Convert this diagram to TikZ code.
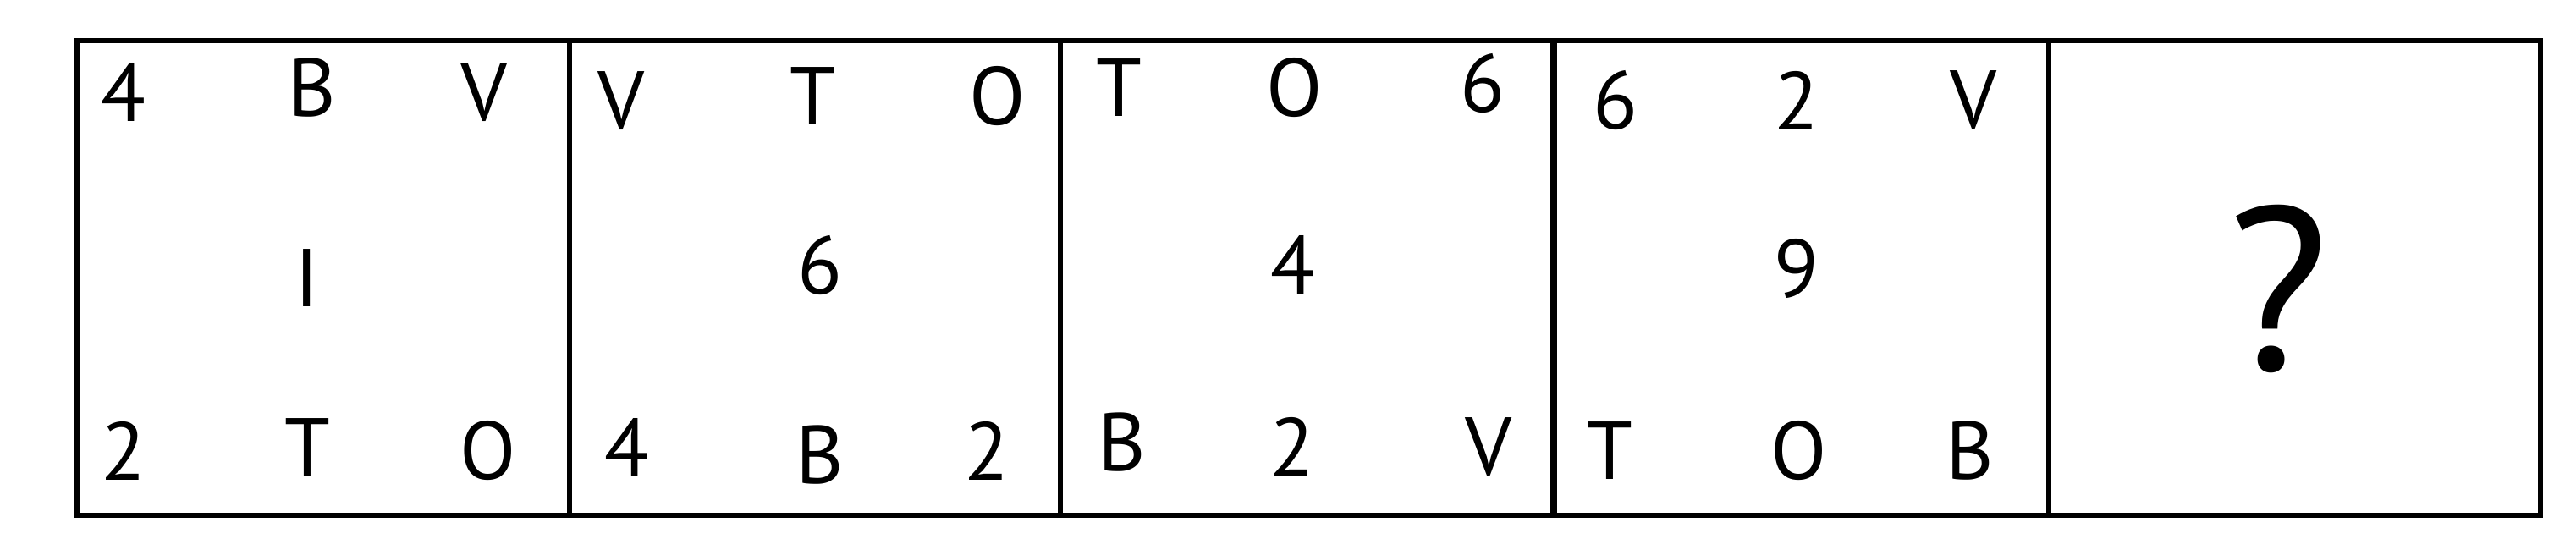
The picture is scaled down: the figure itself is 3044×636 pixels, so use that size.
\documentclass[tikz,border=0pt]{standalone}
\usepackage{fontspec}
\setmainfont{PT Sans}
\tikzset{
  khung/.style={line width=1.6pt},
  kyhieu/.style={inner sep=0pt,font=\fontsize{27.6}{28}\selectfont},
  hoi/.style={inner sep=0pt,font=\fontsize{78}{78}\selectfont}
}
\begin{document}
\begin{tikzpicture}[x=0.01cm,y=-0.01cm]
  \useasboundingbox (0,0) rectangle (3044,636);
  \draw[khung] (91,48) rectangle (3002,609);
  \foreach \x in {673,1253,2421} \draw[khung] (\x,48) -- (\x,609);
  \draw[khung,line width=2.2pt] (1836,48) -- (1836,609);
  % o thu nhat
  \node[kyhieu] (a1) at (146,109) {4};
  \node[kyhieu] (a2) at (369,104) {B};
  \node[kyhieu] (a3) at (572,109) {V};
  \node[kyhieu] (a4) at (363,329) {I};
  \node[kyhieu] (a5) at (146,533) {2};
  \node[kyhieu] (a6) at (363,529) {T};
  \node[kyhieu] (a7) at (577,533) {O};
  % o thu hai
  \node[kyhieu] (b1) at (734,119) {V};
  \node[kyhieu] (b2) at (960,114) {T};
  \node[kyhieu] (b3) at (1179,114) {O};
  \node[kyhieu] (b4) at (969,314) {6};
  \node[kyhieu] (b5) at (741,529) {4};
  \node[kyhieu] (b6) at (969,538) {B};
  \node[kyhieu] (b7) at (1166,533) {2};
  % o thu ba
  \node[kyhieu] (c1) at (1322,104) {T};
  \node[kyhieu] (c2) at (1530,104) {O};
  \node[kyhieu] (c3) at (1752,99) {6};
  \node[kyhieu] (c4) at (1528,313) {4};
  \node[kyhieu] (c5) at (1326,523) {B};
  \node[kyhieu] (c6) at (1527,528) {2};
  \node[kyhieu] (c7) at (1759,528) {V};
  % o thu tu
  \node[kyhieu] (d1) at (1909,119) {6};
  \node[kyhieu] (d2) at (2123,119) {2};
  \node[kyhieu] (d3) at (2332,118) {V};
  \node[kyhieu] (d4) at (2123,318) {9};
  \node[kyhieu] (d5) at (1902,533) {T};
  \node[kyhieu] (d6) at (2126,533) {O};
  \node[kyhieu] (d7) at (2328,533) {B};
  % o cuoi
  \node[hoi] (e) at (2692,341) {?};
\end{tikzpicture}
\end{document}
